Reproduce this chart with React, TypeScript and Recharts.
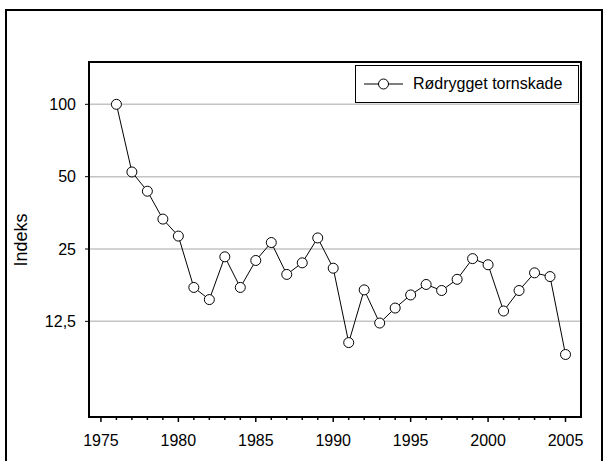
import React from "react";
import { LineChart, Line, XAxis, YAxis, CartesianGrid, ReferenceArea, Legend } from "recharts";

const years = [
  1976, 1977, 1978, 1979, 1980, 1981, 1982, 1983, 1984, 1985, 1986, 1987, 1988, 1989, 1990,
  1991, 1992, 1993, 1994, 1995, 1996, 1997, 1998, 1999, 2000, 2001, 2002, 2003, 2004, 2005,
];
const indexValues = [
  100, 52.3, 43.5, 33.3, 28.3, 17.3, 15.4, 23.2, 17.3, 22.4, 26.6, 19.6, 21.9, 27.8, 20.8,
  10.2, 16.9, 12.3, 14.2, 16.1, 17.8, 16.8, 18.7, 22.8, 21.5, 13.8, 16.8, 19.9, 19.2, 9.1,
];
const yTicks = [12.5, 25, 50, 100];
const xTicks = Array.from({ length: 31 }, (_, i) => 1975 + i);
const seriesName = "Rødrygget tornskade";
const yLabel = "Indeks";

const data = years.map((y, i) => ({ year: y, v: indexValues[i] }));

const FONT = "'Liberation Sans', Arial, sans-serif";

function XTick(props: any) {
  const { x, y, payload } = props;
  const major = payload.value % 5 === 0;
  return (
    <g>
      <line x1={x} y1={y} x2={x} y2={y + (major ? 5 : 3)} stroke="#000" strokeWidth={1.5} />
      {major && (
        <text x={x} y={y + 29} textAnchor="middle" fontSize={16} fontFamily={FONT} fill="#000">
          {payload.value}
        </text>
      )}
    </g>
  );
}

function LegendBox() {
  return (
    <div
      style={{
        width: 222,
        height: 36,
        border: "1px solid #000",
        background: "#fff",
        display: "flex",
        alignItems: "center",
        fontFamily: FONT,
        fontSize: 16,
        color: "#000",
        boxSizing: "content-box",
      }}
    >
      <svg width={57} height={36} style={{ display: "block" }}>
        <line x1={8} y1={18} x2={47} y2={18} stroke="#000" strokeWidth={1} />
        <circle cx={27.5} cy={18} r={5} fill="#fff" stroke="#000" strokeWidth={1} />
      </svg>
      <span>{seriesName}</span>
    </div>
  );
}

export default function App() {
  return (
    <div style={{ position: "absolute", left: 0, top: 0, width: 605, height: 461, overflow: "hidden", background: "#fff" }}>
      <div
        style={{
          position: "absolute",
          left: 5,
          top: 9,
          width: 594,
          height: 480,
          border: "2px solid #000",
        }}
      />
      <div style={{ position: "absolute", left: 0, top: 0 }}>
        <LineChart width={605} height={461} data={data} margin={{ top: 62, right: 24, bottom: 14, left: 0 }}>
          <CartesianGrid vertical={false} stroke="#c4c4c4" strokeWidth={1.5} />
          <XAxis
            dataKey="year"
            type="number"
            domain={[1974.23, 2006]}
            ticks={xTicks}
            interval={0}
            allowDataOverflow
            height={30}
            axisLine={false}
            tickLine={false}
            tickSize={0}
            tickMargin={0}
            tick={<XTick />}
          />
          <YAxis
            type="number"
            scale="log"
            domain={[5, 150]}
            allowDataOverflow
            ticks={yTicks}
            width={89}
            axisLine={false}
            tickSize={4}
            tickMargin={9}
            tickLine={{ stroke: "#000", strokeWidth: 1 }}
            tick={{ fill: "#000", fontSize: 16, fontFamily: FONT }}
            tickFormatter={(v: number) => String(v).replace(".", ",")}
            label={{
              content: () => (
                <text
                  x={21}
                  y={240}
                  transform="rotate(-90 21 240)"
                  textAnchor="middle"
                  dy="0.35em"
                  fontSize={18}
                  fontFamily={FONT}
                  fill="#000"
                >
                  {yLabel}
                </text>
              ),
            }}
          />
          <ReferenceArea
            x1={1974.23}
            x2={2006}
            y1={5}
            y2={150}
            ifOverflow="visible"
            fill="none"
            fillOpacity={0}
            stroke="#000"
            strokeWidth={2}
            strokeOpacity={1}
          />
          <Legend
            layout="vertical"
            align="center"
            verticalAlign="middle"
            wrapperStyle={{ left: 355, top: 65, width: 224, height: 38 }}
            content={() => <LegendBox />}
          />
          <Line
            dataKey="v"
            name={seriesName}
            stroke="#000"
            strokeWidth={1}
            dot={{ r: 5, fill: "#fff", stroke: "#000", strokeWidth: 1 }}
            activeDot={false}
            isAnimationActive={false}
          />
        </LineChart>
      </div>
    </div>
  );
}
